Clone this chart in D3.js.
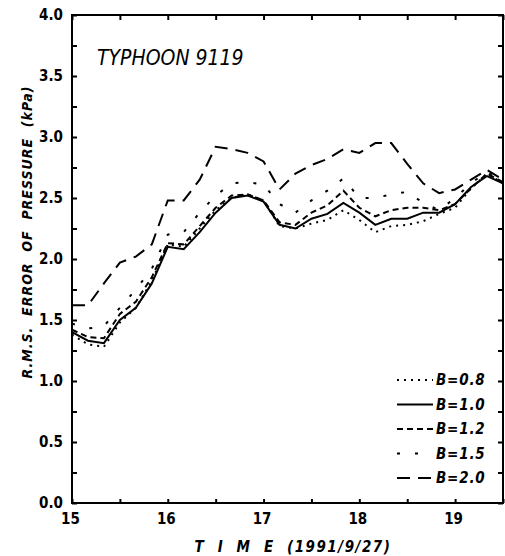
<!DOCTYPE html>
<html>
<head>
<meta charset="utf-8">
<script src="https://cdn.jsdelivr.net/npm/d3@7"></script>
<style>
  body { margin: 0; background: #fff; }
  svg { display: block; }
  text { font-family: "Liberation Sans Narrow", "DejaVu Sans Condensed", "DejaVu Sans", sans-serif; fill: #000; }
</style>
</head>
<body>
<script>
// observation times (hour of 1991/9/27)
var times = ["15:00","15:10","15:20","15:30","15:40","15:50","16:00","16:10","16:20","16:30",
             "16:40","16:50","17:00","17:10","17:20","17:30","17:40","17:50","18:00","18:10",
             "18:20","18:30","18:40","18:50","19:00","19:10","19:20","19:30"];

// r.m.s. error of pressure (kPa) per B value
var b08 = [1.38,1.30,1.28,1.48,1.60,1.82,2.12,2.10,2.25,2.40,2.50,2.53,2.48,2.27,2.25,2.29,2.32,2.40,2.32,2.22,2.27,2.28,2.31,2.37,2.42,2.58,2.70,2.62];
var b10 = [1.40,1.33,1.31,1.50,1.60,1.80,2.10,2.08,2.22,2.38,2.50,2.52,2.47,2.28,2.25,2.33,2.37,2.46,2.38,2.28,2.33,2.33,2.38,2.38,2.45,2.59,2.68,2.62];
var b12 = [1.42,1.36,1.35,1.55,1.65,1.85,2.13,2.12,2.27,2.42,2.52,2.53,2.48,2.30,2.28,2.38,2.44,2.56,2.42,2.35,2.40,2.42,2.42,2.40,2.45,2.58,2.70,2.63];
var b15 = [1.47,1.43,1.45,1.60,1.75,1.92,2.20,2.22,2.38,2.52,2.62,2.63,2.61,2.45,2.38,2.48,2.56,2.66,2.50,2.50,2.53,2.55,2.46,2.40,2.50,2.62,2.72,2.64];
var b20 = [1.62,1.62,1.80,1.97,2.02,2.12,2.48,2.48,2.65,2.92,2.90,2.87,2.80,2.57,2.70,2.77,2.82,2.90,2.87,2.95,2.95,2.78,2.62,2.54,2.57,2.65,2.73,2.65];

var seriesNames = ["B=0.8", "B=1.0", "B=1.2", "B=1.5", "B=2.0"];
var dashes = ["2,5", null, "6,4", "3,15", "13,8"];

var xTicks = [15, 15.5, 16, 16.5, 17, 17.5, 18, 18.5, 19, 19.5];
var xLabels = [15, 16, 17, 18, 19];
var yTicks = [0, 0.25, 0.5, 0.75, 1, 1.25, 1.5, 1.75, 2, 2.25, 2.5, 2.75, 3, 3.25, 3.5, 3.75, 4];

var width = 505, height = 556,
    plotL = 72, plotR = 503, plotT = 15, plotB = 503;

var svg = d3.select("body").append("svg")
    .attr("width", width)
    .attr("height", height);

var hours = times.map(function(t) {
    var p = t.split(":");
    return +p[0] + p[1] / 60;
});

var x = d3.scaleLinear().domain([15, 19.5]).range([plotL, plotR]);
var y = d3.scaleLinear().domain([0, 4]).range([plotB, plotT]);

// inward ticks on all four sides
var fmtY = function(d) { return d % 0.5 === 0 ? d.toFixed(1) : ""; };
var fmtX = function(d) { return xLabels.indexOf(d) >= 0 ? d : ""; };

var gl = svg.append("g").attr("transform", "translate(" + plotL + ",0)")
    .call(d3.axisLeft(y).tickValues(yTicks).tickSize(-5).tickPadding(9).tickFormat(fmtY));
var gr = svg.append("g").attr("transform", "translate(" + plotR + ",0)")
    .call(d3.axisRight(y).tickValues(yTicks).tickSize(-5).tickFormat(""));
var gb = svg.append("g").attr("transform", "translate(0," + plotB + ")")
    .call(d3.axisBottom(x).tickValues(xTicks).tickSize(-4).tickPadding(10).tickFormat(fmtX));
var gt = svg.append("g").attr("transform", "translate(0," + plotT + ")")
    .call(d3.axisTop(x).tickValues(xTicks).tickSize(-5).tickFormat(""));

svg.selectAll(".domain").remove();
svg.selectAll(".tick line").attr("stroke", "#000").attr("stroke-width", 2);
svg.selectAll(".tick text")
    .style("font-size", "15px")
    .style("font-weight", "bold");
gb.selectAll(".tick text").attr("dx", "-2");

// frame
svg.append("rect")
    .attr("x", plotL).attr("y", plotT)
    .attr("width", plotR - plotL).attr("height", plotB - plotT)
    .attr("fill", "none").attr("stroke", "#000").attr("stroke-width", 2);

// series lines
var line = d3.line()
    .x(function(d, i) { return x(hours[i]); })
    .y(function(d) { return y(d); });

var allSeries = [b08, b10, b12, b15, b20];

svg.append("g").selectAll("path")
    .data(allSeries)
    .enter().append("path")
    .attr("d", line)
    .attr("fill", "none")
    .attr("stroke", "#000")
    .attr("stroke-width", 2)
    .attr("stroke-dasharray", function(d, i) { return dashes[i]; });

// legend
var legend = svg.append("g").selectAll("g")
    .data(seriesNames)
    .enter().append("g")
    .attr("transform", function(d, i) { return "translate(397," + (380 + i * 24.5) + ")"; });

legend.append("line")
    .attr("x1", 0).attr("x2", 36)
    .attr("stroke", "#000").attr("stroke-width", 2)
    .attr("stroke-dasharray", function(d, i) { return dashes[i]; });

legend.append("text")
    .attr("x", 39).attr("dy", "0.35em")
    .style("font-size", "15px")
    .style("font-weight", "bold")
    .style("font-style", "italic")
    .style("letter-spacing", "0.8px")
    .text(function(d) { return d; });

// title inside the plot
svg.append("text")
    .attr("x", 97).attr("y", 65)
    .style("font-size", "21px")
    .style("font-style", "italic")
    .text("TYPHOON 9119");

// axis titles
svg.append("text")
    .attr("x", 293).attr("y", 552)
    .attr("text-anchor", "middle")
    .style("font-size", "15px")
    .style("font-weight", "bold")
    .style("font-style", "italic")
    .style("letter-spacing", "1.5px")
    .attr("xml:space", "preserve")
    .text("T  I  M  E  (1991/9/27)");

svg.append("text")
    .attr("transform", "translate(32,232) rotate(-90)")
    .attr("text-anchor", "middle")
    .style("font-size", "14px")
    .style("font-weight", "bold")
    .style("font-style", "italic")
    .style("letter-spacing", "1px")
    .attr("xml:space", "preserve")
    .text("R.M.S.  ERROR  OF  PRESSURE  (kPa)");
</script>
</body>
</html>
